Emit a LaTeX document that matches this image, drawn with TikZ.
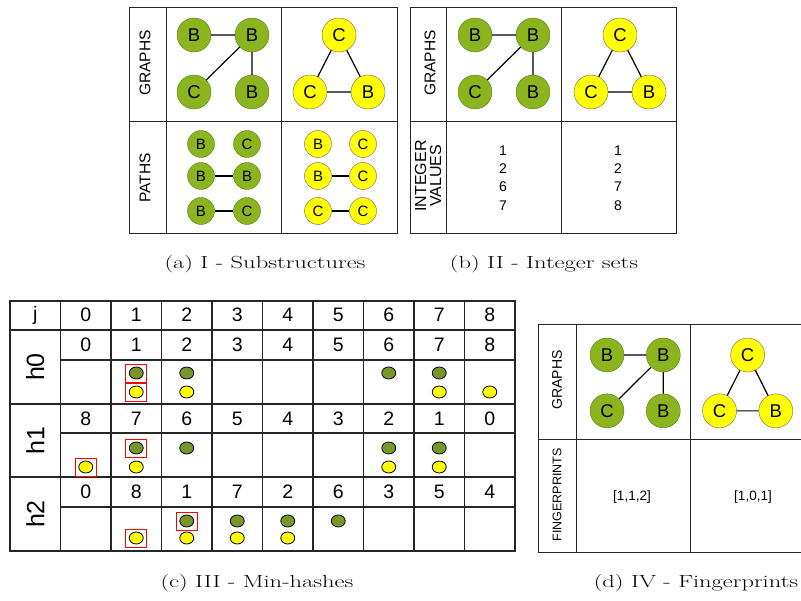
\documentclass[tikz,border=0pt]{standalone}
\usepackage{fontspec}
\newfontfamily\arialfont{Liberation Sans}
\definecolor{gfill}{RGB}{140,180,30}
\definecolor{gline}{RGB}{90,120,20}
\definecolor{dotgreen}{RGB}{122,150,42}
\definecolor{yfill}{RGB}{255,255,0}

% one green and one yellow graph, #1 = name prefix
\newcommand{\graphpair}[1]{%
  \node[gnode] (#1b1) at (0,0) {B};
  \node[gnode] (#1b2) at (58,0) {B};
  \node[gnode] (#1c1) at (0,57) {C};
  \node[gnode] (#1b3) at (58,57) {B};
  \node[ynode] (#1c2) at (145,0) {C};
  \node[ynode] (#1c3) at (116,57) {C};
  \node[ynode] (#1b4) at (174,57) {B};
  \draw[edge] (#1b1) -- (#1b2) (#1b2) -- (#1c1) (#1b2) -- (#1b3);
  \draw[edge] (#1c2) -- (#1c3) -- (#1b4) -- (#1c2);
}
% wide caption text
\newcommand{\subcap}[1]{\scalebox{1.4}[1]{#1}}

\begin{document}
\begin{tikzpicture}[x=1pt,y=-1pt,
    gnode/.style={circle,draw=gline,fill=gfill,minimum size=34pt,inner sep=0pt,
      font=\arialfont\fontsize{18.5}{18.5}\selectfont},
    ynode/.style={gnode,draw=black!60,fill=yfill},
    gpath/.style={gnode,minimum size=27pt,font=\arialfont\fontsize{15}{15}\selectfont},
    ypath/.style={ynode,minimum size=27pt,font=\arialfont\fontsize{15}{15}\selectfont},
    edge/.style={line width=1.2pt,black},
    frame/.style={line width=0.9pt,black!85},
    tablegrid/.style={line width=1.3pt,black!85},
    lbl/.style={font=\arialfont\fontsize{15.5}{15.5}\selectfont,rotate=90},
    num/.style={font=\arialfont\fontsize{19.5}{19.5}\selectfont},
    hlbl/.style={font=\arialfont\fontsize{25}{25}\selectfont,rotate=90},
    gdot/.style={draw=black,fill=dotgreen,line width=0.8pt},
    ydot/.style={draw=black,fill=yfill,line width=0.8pt},
    redbox/.style={draw=red,line width=0.9pt},
    captext/.style={font=\fontsize{17.5}{20}\selectfont}]
\useasboundingbox (0,0) rectangle (801,601);

% (a) substructures
\draw[frame] (129,7) rectangle (397,233);
\draw[frame] (166,7) -- (166,233) (281,7) -- (281,233) (129,121) -- (397,121);
\node[lbl] (agraphs) at (145,63) {GRAPHS};
\node[lbl] (apaths) at (145,178) {PATHS};
\begin{scope}[shift={(194,35)}]
  \graphpair{a}
\end{scope}
\node[gpath] (p1) at (201,144) {B};
\node[gpath] (p2) at (247,144) {C};
\node[gpath] (p3) at (201,176) {B};
\node[gpath] (p4) at (247,176) {B};
\node[gpath] (p5) at (201,211) {B};
\node[gpath] (p6) at (247,211) {C};
\draw[edge] (p3) -- (p4) (p5) -- (p6);
\node[ypath] (q1) at (318,144) {B};
\node[ypath] (q2) at (363,144) {C};
\node[ypath] (q3) at (318,176) {B};
\node[ypath] (q4) at (363,176) {C};
\node[ypath] (q5) at (318,211) {C};
\node[ypath] (q6) at (363,211) {C};
\draw[edge] (q3) -- (q4) (q5) -- (q6);
\node[captext] (capa) at (265,264) {\subcap{(a) I - Substructures}};

% (b) integer sets
\draw[frame] (410,7) rectangle (676,233);
\draw[frame] (446,7) -- (446,233) (561,7) -- (561,233) (410,121) -- (676,121);
\node[lbl] (bgraphs) at (430,63) {GRAPHS};
\node[lbl,align=center,font=\arialfont\fontsize{16}{15}\selectfont] (bvalues) at (428,176) {INTEGER\\VALUES};
\begin{scope}[shift={(475,35)}]
  \graphpair{b}
\end{scope}
\node[align=center,font=\arialfont\fontsize{14}{18.3}\selectfont] (set1) at (503,178) {1\\2\\6\\7};
\node[align=center,font=\arialfont\fontsize{14}{18.3}\selectfont] (set2) at (618,178) {1\\2\\7\\8};
\node[captext] (capb) at (544,264) {\subcap{(b) II - Integer sets}};

% (c) min-hashes
\draw[tablegrid] (10,301) rectangle (515,551);
\foreach \i in {1,...,9}
  \draw[tablegrid] (10+50.5*\i,301) -- (10+50.5*\i,551);
\foreach \y in {330,404,477}
  \draw[tablegrid] (10,\y) -- (515,\y);
\foreach \y in {360,433,507}
  \draw[tablegrid] (60.5,\y) -- (515,\y);
\node[num] (j) at (35.25,315) {j};
\node[hlbl] (h0) at (35.25,367) {h0};
\node[hlbl] (h1) at (35.25,440.5) {h1};
\node[hlbl] (h2) at (35.25,514) {h2};
\foreach \v [count=\k from 0] in {0,1,2,3,4,5,6,7,8}
  \node[num] (jv\k) at (85.75+50.5*\k,315) {\v};
\foreach \v [count=\k from 0] in {0,1,2,3,4,5,6,7,8}
  \node[num] (hza\k) at (85.75+50.5*\k,345) {\v};
\foreach \v [count=\k from 0] in {8,7,6,5,4,3,2,1,0}
  \node[num] (hone\k) at (85.75+50.5*\k,419) {\v};
\foreach \v [count=\k from 0] in {0,8,1,7,2,6,3,5,4}
  \node[num] (htwo\k) at (85.75+50.5*\k,492) {\v};
\foreach \k/\y in {1/373,2/373,6/373,7/373,1/448,2/448,6/448,7/448,2/521,3/521,4/521,5/521}
  \filldraw[gdot] (85.75+50.5*\k,\y) ellipse (7 and 6);
\foreach \k/\y in {1/392,2/392,7/392,8/392,0/467,1/467,6/467,7/467,1/538,2/538,3/538,4/538}
  \filldraw[ydot] (85.75+50.5*\k,\y) ellipse (7 and 6);
\foreach \k/\y in {1/373,1/392,1/448,0/467,2/521,1/538}
  \draw[redbox] (75.25+50.5*\k,\y-9) rectangle (96.25+50.5*\k,\y+9);
\node[captext] (capc) at (257,583) {\subcap{(c) III - Min-hashes}};

% (d) fingerprints
\draw[frame] (801,324) -- (538,324) -- (538,552) -- (801,552);
\draw[frame] (576,324) -- (576,552) (690,324) -- (690,552) (538,439) -- (801,439);
\node[lbl,font=\arialfont\fontsize{14}{14}\selectfont] (dgraphs) at (557,380) {GRAPHS};
\node[lbl,font=\arialfont\fontsize{12.5}{12.5}\selectfont] (dprints) at (557,495) {FINGERPRINTS};
\begin{scope}[shift={(607,355)},xscale=0.97,yscale=0.98]
  \graphpair{d}
\end{scope}
\node[font=\arialfont\fontsize{13.5}{13.5}\selectfont] (fp1) at (632,497) {[1,1,2]};
\node[font=\arialfont\fontsize{13.5}{13.5}\selectfont] (fp2) at (753,497) {[1,0,1]};
\node[captext] (capd) at (696,583) {\subcap{(d) IV - Fingerprints}};
\end{tikzpicture}
\end{document}
